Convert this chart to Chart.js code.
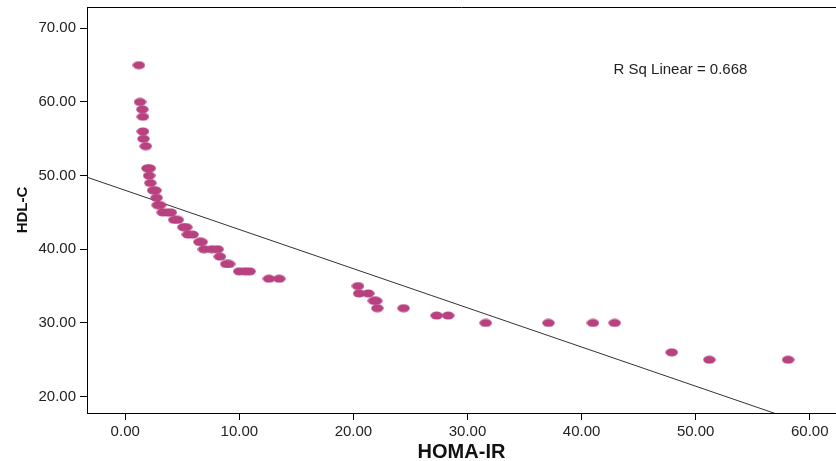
<!DOCTYPE html>
<html><head><meta charset="utf-8">
<script src="https://cdn.jsdelivr.net/npm/chart.js@4.4.1/dist/chart.umd.min.js"></script>
<style>html,body{margin:0;padding:0;background:#fff}canvas{display:block}</style>
</head><body>
<canvas id="c" width="836" height="461"></canvas>
<script>
const homaIR = [1.2,1.3,1.5,1.55,1.55,1.6,1.8, 1.95,2.15, 2.1, 2.2, 2.45,2.65, 2.75, 2.85,3.05, 3.3,3.7,4.0, 4.3,4.6, 5.1,5.35, 5.5,5.9, 6.5,6.7, 6.9,7.6,8.1, 8.3, 8.85,9.1, 10.0,10.5,10.9, 12.6,13.5, 20.4, 20.5,21.3, 21.8,22.0, 22.1,24.4, 27.3,28.3, 31.6,37.1,41.0,42.9, 47.9, 51.2,58.1];
const hdlC = [65,60,59,58,56,55,54, 51,51, 50, 49, 48,48, 47, 46,46, 45,45,45, 44,44, 43,43, 42,42, 41,41, 40,40,40, 39, 38,38, 37,37,37, 36,36, 35, 34,34, 33,33, 32,32, 31,31, 30,30,30,30, 26, 25,25];
const xTicks = [0,10,20,30,40,50,60];
const yTicks = [20,30,40,50,60,70];
const fitIntercept = 48.0;
const fitSlope = -0.532;
const rSqLinear = 0.668;
const xLabel = 'HOMA-IR';
const yLabel = 'HDL-C';

const X_MIN = -3.35, X_MAX = 62.3, Y_MIN = 17.76, Y_MAX = 72.9;
const FONT = '"Liberation Sans", Arial, sans-serif';

// ellipse marker
const marker = document.createElement('canvas');
marker.width = 13; marker.height = 9;
(function(){const g = marker.getContext('2d');g.fillStyle = '#b8417f';g.beginPath();g.ellipse(6.5,4.5,6.2,4.0,0,0,Math.PI*2);g.fill();})();

const points = homaIR.map((x,i)=>({x:x, y:hdlC[i]}));
const fitLine = [X_MIN, X_MAX].map(x=>({x:x, y:fitIntercept + fitSlope*x}));

const frame = {
  id:'frame',
  afterDraw(chart){
    const {ctx, chartArea:a, scales} = chart;
    ctx.save();
    ctx.strokeStyle = '#000'; ctx.lineWidth = 1;
    ctx.beginPath(); ctx.moveTo(a.left, a.top+0.5); ctx.lineTo(a.right, a.top+0.5); ctx.stroke();
    ctx.fillStyle = '#222';
    ctx.font = '15px ' + FONT;
    ctx.textBaseline = 'middle'; ctx.textAlign = 'left';
    ctx.fillText('R Sq Linear = ' + rSqLinear.toFixed(3), scales.x.getPixelForValue(42.8), scales.y.getPixelForValue(64.4));
    ctx.restore();
  }
};

new Chart(document.getElementById('c'), {
  data:{datasets:[
    {type:'line', data:fitLine, borderColor:'#333', borderWidth:1, pointRadius:0, fill:false, order:1},
    {type:'scatter', data:points, pointStyle:marker, pointRadius:6, order:0}
  ]},
  options:{
    responsive:false, animation:false, events:[],
    layout:{autoPadding:false, padding:{left:0, top:7, right:0, bottom:0}},
    plugins:{legend:{display:false}, tooltip:{enabled:false}},
    scales:{
      x:{type:'linear', min:X_MIN, max:X_MAX,
        afterBuildTicks(s){s.ticks = xTicks.map(v=>({value:v}));},
        afterFit(s){s.height = 48; s.paddingLeft = 0; s.paddingRight = 0;},
        ticks:{color:'#222', font:{size:15, family:FONT}, padding:3, maxRotation:0, autoSkip:false, callback:v=>Number(v).toFixed(2)},
        grid:{display:true, drawOnChartArea:false, drawTicks:true, tickLength:7, color:'#000'},
        border:{display:true, color:'#000', width:1},
        title:{display:true, text:xLabel, color:'#111', font:{size:20, weight:'bold', family:FONT, lineHeight:1}, padding:{top:0,bottom:-1}}
      },
      y:{type:'linear', min:Y_MIN, max:Y_MAX,
        afterBuildTicks(s){s.ticks = yTicks.map(v=>({value:v}));},
        afterFit(s){s.width = 87; s.paddingTop = 0; s.paddingBottom = 0;},
        ticks:{color:'#222', font:{size:15, family:FONT}, padding:4, autoSkip:false, callback:v=>Number(v).toFixed(2)},
        grid:{display:true, drawOnChartArea:false, drawTicks:true, tickLength:7, color:'#000'},
        border:{display:true, color:'#000', width:1},
        title:{display:true, text:yLabel, color:'#111', font:{size:15, weight:'bold', family:FONT}, padding:{top:14,bottom:0}}
      }
    }
  },
  plugins:[frame]
});
</script>
</body></html>
